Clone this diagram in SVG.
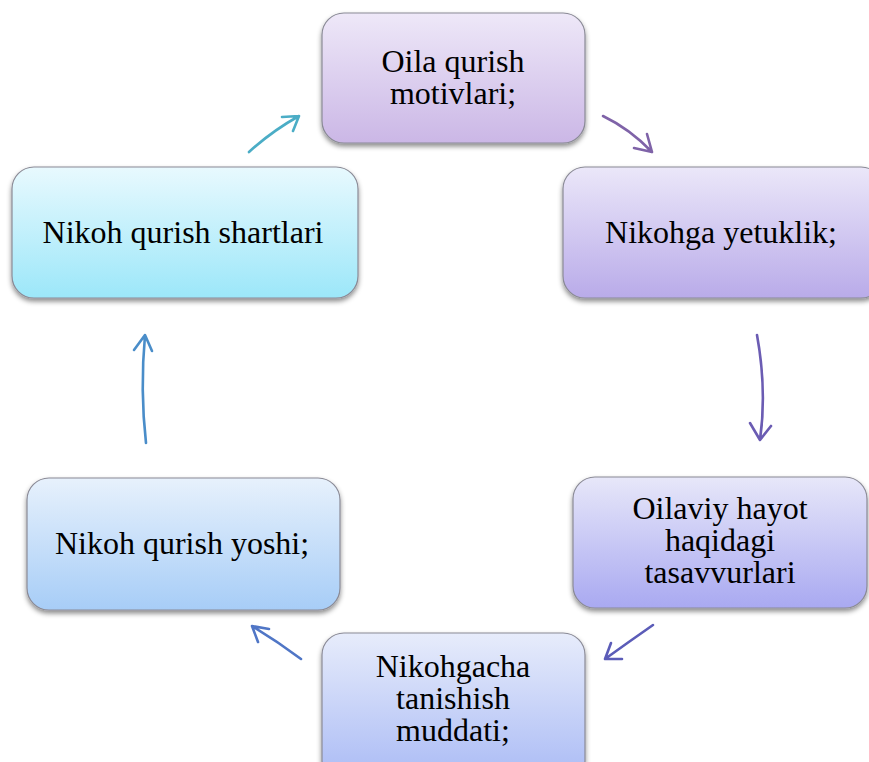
<svg xmlns="http://www.w3.org/2000/svg" width="869" height="762" viewBox="0 0 869 762">
<defs>
<style>
.box{stroke:#8a8a96;stroke-width:1.2;filter:url(#sh)}
.t{font-family:"Liberation Serif","Times New Roman",serif;font-size:32px;fill:#000;text-anchor:middle}
.c{fill:none;stroke-width:2.6;stroke-linecap:round;stroke-linejoin:round}
</style>
<filter id="sh" x="-10%" y="-10%" width="120%" height="130%">
<feDropShadow dx="0" dy="3" stdDeviation="2.5" flood-color="#000" flood-opacity="0.45"/>
</filter>
<linearGradient id="g1" x1="0" y1="0" x2="0" y2="1"><stop offset="0" stop-color="#EEE8F8"/><stop offset="1" stop-color="#CBB7E6"/></linearGradient>
<linearGradient id="g2" x1="0" y1="0" x2="0" y2="1"><stop offset="0" stop-color="#EBE7F9"/><stop offset="1" stop-color="#B9ABE9"/></linearGradient>
<linearGradient id="g3" x1="0" y1="0" x2="0" y2="1"><stop offset="0" stop-color="#E7E7F9"/><stop offset="1" stop-color="#A9A9F1"/></linearGradient>
<linearGradient id="g4" x1="0" y1="0" x2="0" y2="1"><stop offset="0" stop-color="#E7ECFB"/><stop offset="1" stop-color="#A9BAF5"/></linearGradient>
<linearGradient id="g5" x1="0" y1="0" x2="0" y2="1"><stop offset="0" stop-color="#E8F9FE"/><stop offset="1" stop-color="#9CE7F9"/></linearGradient>
<linearGradient id="g6" x1="0" y1="0" x2="0" y2="1"><stop offset="0" stop-color="#E7F1FC"/><stop offset="1" stop-color="#A7CDF7"/></linearGradient>
</defs>
<rect width="869" height="762" fill="#fff"/>
<g id="connectors">
<path class="c" stroke="#4BADC6" d="M249,152 Q272,131 299,116 M282,117 L299,116 L293,131"/>
<path class="c" stroke="#7F63A8" d="M603,116 Q630,129 652,152 M647,134 L652,152 L634,148"/>
<path class="c" stroke="#6B5CB3" d="M757,335 Q767,390 760,440 M750,423 L760,440 L771,426"/>
<path class="c" stroke="#5B5CB8" d="M653,625 Q630,641 605,659 M611,643 L605,659 L622,659"/>
<path class="c" stroke="#5076C6" d="M301,659 Q277,641 252,626 M269,629 L252,626 L258,642"/>
<path class="c" stroke="#4A8DC9" d="M146,443 Q140,390 145,335 M134,350 L145,335 L152,351"/>
</g>
<g id="n1"><rect class="box" x="322" y="13" width="263" height="130" rx="22" fill="url(#g1)"/>
<text class="t" x="453" y="72">Oila qurish</text><text class="t" x="453" y="104">motivlari;</text></g>
<g id="n2"><rect class="box" x="563" y="167" width="320" height="131" rx="22" fill="url(#g2)"/>
<text class="t" x="721" y="243">Nikohga yetuklik;</text></g>
<g id="n3"><rect class="box" x="573" y="477" width="294" height="131" rx="22" fill="url(#g3)"/>
<text class="t" x="720" y="519">Oilaviy hayot</text><text class="t" x="720" y="551">haqidagi</text><text class="t" x="720" y="583">tasavvurlari</text></g>
<g id="n4"><rect class="box" x="322" y="633" width="263" height="150" rx="22" fill="url(#g4)"/>
<text class="t" x="453" y="677">Nikohgacha</text><text class="t" x="453" y="709">tanishish</text><text class="t" x="453" y="741">muddati;</text></g>
<g id="n5"><rect class="box" x="12" y="167" width="346" height="131" rx="22" fill="url(#g5)"/>
<text class="t" x="183" y="243">Nikoh qurish shartlari</text></g>
<g id="n6"><rect class="box" x="27" y="478" width="313" height="132" rx="22" fill="url(#g6)"/>
<text class="t" x="182" y="554">Nikoh qurish yoshi;</text></g>
</svg>
